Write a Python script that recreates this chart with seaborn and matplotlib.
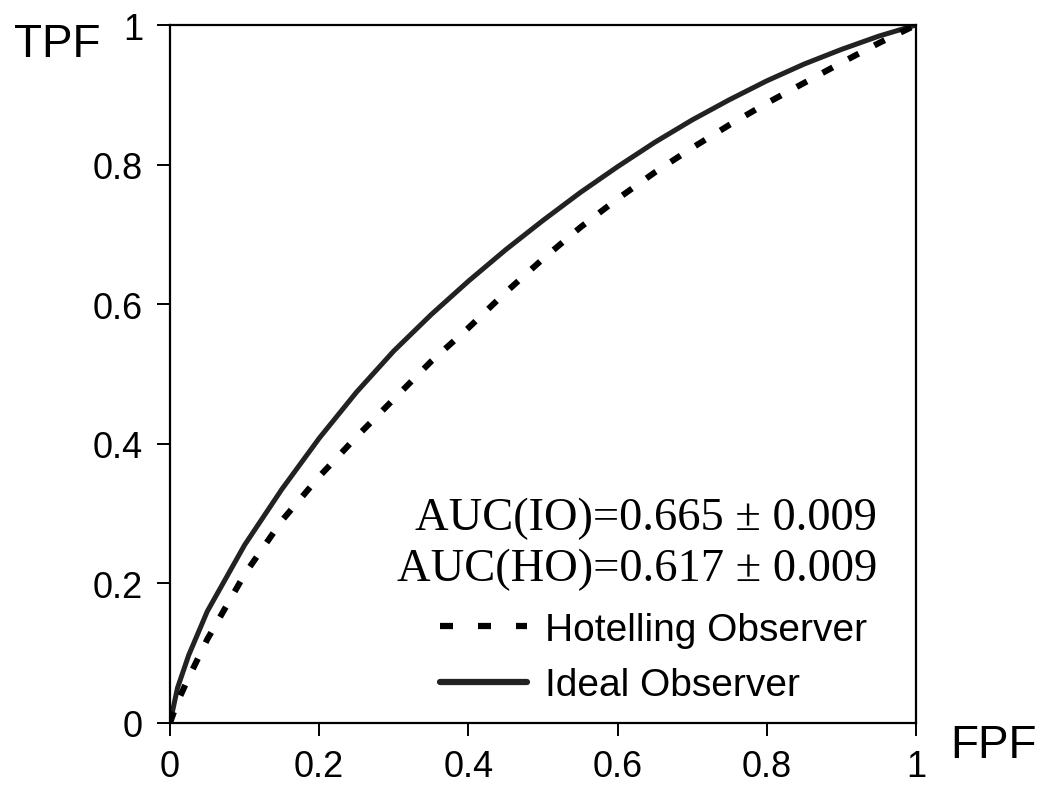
import numpy as np
import pandas as pd
import matplotlib
matplotlib.use('Agg')
import matplotlib.pyplot as plt
import seaborn as sns
from matplotlib.lines import Line2D

# ROC points
fpf_io = [0, 0.01, 0.025, 0.05, 0.1, 0.15, 0.2, 0.25, 0.3, 0.35, 0.4, 0.45, 0.5,
          0.55, 0.6, 0.65, 0.7, 0.75, 0.8, 0.85, 0.9, 0.95, 1.0]
tpf_io = [0, 0.05, 0.097, 0.16, 0.255, 0.335, 0.408, 0.474, 0.533, 0.585, 0.633,
          0.678, 0.72, 0.76, 0.797, 0.832, 0.864, 0.893, 0.92, 0.944, 0.965, 0.984, 1.0]

fpf_ho = [0, 0.01, 0.025, 0.05, 0.1, 0.15, 0.2, 0.25, 0.3, 0.35, 0.4, 0.45, 0.5,
          0.55, 0.6, 0.65, 0.7, 0.75, 0.8, 0.85, 0.9, 0.95, 1.0]
tpf_ho = [0, 0.03, 0.065, 0.12, 0.213, 0.29, 0.353, 0.41, 0.464, 0.518, 0.566,
          0.617, 0.665, 0.71, 0.751, 0.789, 0.824, 0.857, 0.888, 0.917, 0.946, 0.974, 1.0]

ticks = [0, 0.2, 0.4, 0.6, 0.8, 1]
tick_labels = ['0', '0.2', '0.4', '0.6', '0.8', '1']
auc_lines = ['AUC(IO)=0.665 \u00b1 0.009', 'AUC(HO)=0.617 \u00b1 0.009']
series_names = ['Hotelling Observer', 'Ideal Observer']

sns.set_theme(style='white')
plt.rcParams['font.family'] = ['Liberation Sans', 'DejaVu Sans']
plt.rcParams['text.color'] = 'black'

fig = plt.figure(figsize=(10.5, 8.04), dpi=100)
ax = fig.add_axes([170 / 1050, 1 - 724 / 804, 746 / 1050, 698 / 804])

df_io = pd.DataFrame({'FPF': fpf_io, 'TPF': tpf_io})
df_ho = pd.DataFrame({'FPF': fpf_ho, 'TPF': tpf_ho})

sns.lineplot(data=df_io, x='FPF', y='TPF', ax=ax, color='#222222', lw=3.6,
             sort=False, estimator=None)
sns.lineplot(data=df_ho, x='FPF', y='TPF', ax=ax, color='black', lw=4.4,
             sort=False, estimator=None)
ax.lines[-1].set_dashes((1.9, 2.9))
ax.lines[-1].set_dash_capstyle('butt')

ax.set_xlim(0, 1)
ax.set_ylim(0, 1)
ax.set_xticks(ticks)
ax.set_xticklabels(tick_labels)
ax.set_yticks(ticks)
ax.set_yticklabels(tick_labels)
ax.set_xlabel('')
ax.set_ylabel('')
ax.tick_params(axis='both', direction='out', length=9.5, width=1.4,
               labelsize=26, color='black', labelcolor='black')
ax.tick_params(axis='x', pad=9, bottom=True)
ax.tick_params(axis='y', pad=10, left=True)
for s in ax.spines.values():
    s.set_color('black')
    s.set_linewidth(1.6)

# AUC annotations
ax.text(0.948, 0.2945, auc_lines[0], ha='right', va='center', fontsize=33.5,
        family=['Liberation Serif', 'DejaVu Serif'], color='black')
ax.text(0.948, 0.2215, auc_lines[1], ha='right', va='center', fontsize=33.5,
        family=['Liberation Serif', 'DejaVu Serif'], color='black')

handles = [Line2D([], [], color='black', lw=4.5, dashes=(2.08, 4.0),
                  dash_capstyle='butt'),
           Line2D([], [], color='#222222', lw=4.5)]
ax.legend(handles, series_names, loc='center left',
          bbox_to_anchor=(440 / 1050, 1 - 658.5 / 804),
          bbox_transform=fig.transFigure, frameon=False, fontsize=28,
          handlelength=2.23, handletextpad=0.46, labelspacing=0.5,
          borderpad=0, borderaxespad=0, labelcolor='black')

fig.text(57 / 1050, 1 - 45 / 804, 'TPF', ha='center', va='center', fontsize=33,
         color='black')
fig.text(993 / 1050, 1 - 746 / 804, 'FPF', ha='center', va='center', fontsize=33,
         color='black')

fig.savefig('out.png', dpi=100, facecolor='white')
